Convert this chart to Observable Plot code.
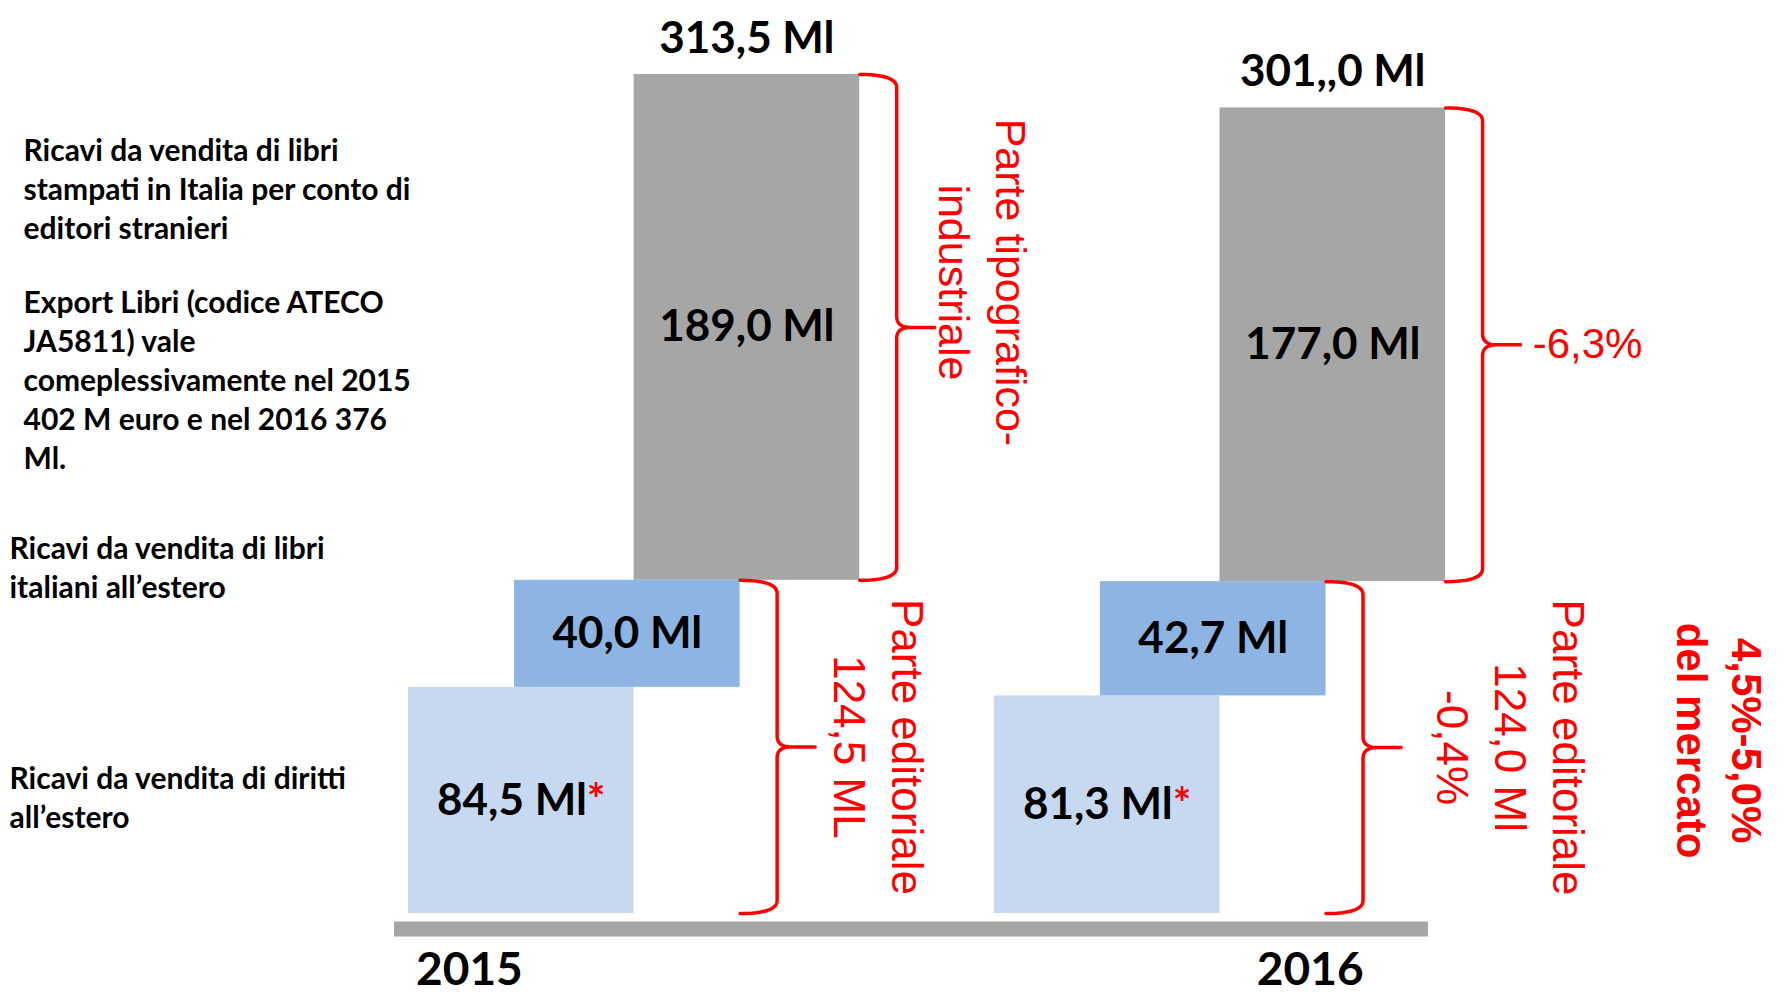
<!DOCTYPE html>
<html>
<head>
<meta charset="utf-8">
<script src="https://cdn.jsdelivr.net/npm/d3@7"></script>
<script src="https://cdn.jsdelivr.net/npm/@observablehq/plot@0.6"></script>
<style>
  html, body { margin: 0; padding: 0; background: #ffffff; overflow: hidden; }
  #chart svg { display: block; }
</style>
</head>
<body>
<div id="chart"></div>
<script>
// ---------------- DATA ----------------
const years = [2015, 2016];
const categories = ["diritti all'estero", "libri italiani all'estero", "libri stampati per editori stranieri"];
const values2015 = [84.5, 40.0, 189.0];
const values2016 = [81.3, 42.7, 177.0];
const valueLabels2015 = ["84,5 Ml", "40,0 Ml", "189,0 Ml"];
const valueLabels2016 = ["81,3 Ml", "42,7 Ml", "177,0 Ml"];
const starred = [true, false, false];
const totals = [313.5, 301.0];
const totalLabels = ["313,5 Ml", "301,,0 Ml"];
const yearLabels = ["2015", "2016"];
const industrialNotes = ["Parte tipografico-\nindustriale", "-6,3%"];
const editorialNotes = ["Parte editoriale\n124,5 ML", "Parte editoriale\n124,0 Ml\n-0,4%"];
const marketNote = "4,5%-5,0%\ndel mercato";
const categoryTexts = [
  "Ricavi da vendita di diritti\nall\u2019estero",
  "Ricavi da vendita di libri\nitaliani all\u2019estero",
  "Ricavi da vendita di libri\nstampati in Italia per conto di\neditori stranieri"
];
const exportNote = "Export Libri (codice ATECO\nJA5811) vale\ncomeplessivamente nel 2015\n402 M euro e nel 2016 376\nMl.";

// ---------------- STYLE / LAYOUT ----------------
const colors = ["#c6d9f1", "#8eb4e3", "#a6a6a6"];
const red = "#ff0000";
const W = 1787, H = 994;
const baselinePx = 913, topPx = 74;          // where 0 and the largest total sit
const barLeftPx = 408, barWidthPx = 225.6;   // first bar's left edge, bar width
const yearBase = [0, 2.597];                 // year group start, in bar widths
const segOffset = [0, 0.47, 1.0];            // stair-step offset of each segment
const yK = (baselinePx - topPx) / d3.max(totals);
const blackFont = "Lato, 'Open Sans', sans-serif";
const redFont = "'Liberation Sans', Arial, sans-serif";

const valuesByYear = [values2015, values2016];
const labelsByYear = [valueLabels2015, valueLabels2016];

const segs = [];
years.forEach((yr, i) => {
  let cum = 0;
  valuesByYear[i].forEach((v, j) => {
    const x1 = yearBase[i] + segOffset[j];
    segs.push({year: yr, cat: categories[j], j, value: v, y1: cum, y2: cum + v,
               x1, x2: x1 + 1, label: labelsByYear[i][j] + (starred[j] ? "*" : "")});
    cum += v;
  });
});
const segOf = (i, j) => segs.find(s => s.year === years[i] && s.j === j);

// curly braces built from segment extents
function bracePoints(id, xEdge, yTop, yBot) {
  const ux = px => px / barWidthPx, uy = px => px / yK;
  const stem = ux(37), tip = ux(75), bend = ux(14), corner = uy(13), neck = uy(11);
  const yMid = (yTop + yBot) / 2;
  const pts = [];
  const quad = (p0, p1, p2, n = 12) => {
    for (let k = 0; k <= n; k++) {
      const t = k / n, a = (1 - t) * (1 - t), b = 2 * (1 - t) * t, c = t * t;
      pts.push({id, x: a * p0[0] + b * p1[0] + c * p2[0], y: a * p0[1] + b * p1[1] + c * p2[1]});
    }
  };
  const xs = xEdge + stem;
  quad([xEdge, yTop], [xs, yTop], [xs, yTop - corner]);
  quad([xs, yMid + neck], [xs, yMid], [xs + bend, yMid]);
  pts.push({id, x: xEdge + tip, y: yMid});
  pts.push({id, x: xs + bend, y: yMid});
  quad([xs + bend, yMid], [xs, yMid], [xs, yMid - neck]);
  quad([xs, yBot + corner], [xs, yBot], [xEdge, yBot]);
  return pts;
}
const braces = [];
const industrialAnchors = [], editorialAnchors = [];
years.forEach((yr, i) => {
  const g = segOf(i, 2), m = segOf(i, 1), l = segOf(i, 0);
  braces.push(...bracePoints("ind" + yr, g.x2, g.y2, g.y1));
  braces.push(...bracePoints("ed" + yr, m.x2, m.y2, l.y1));
  industrialAnchors.push({xEdge: g.x2, y: (g.y1 + g.y2) / 2, text: industrialNotes[i]});
  editorialAnchors.push({xEdge: m.x2, y: (l.y1 + m.y2) / 2, text: editorialNotes[i]});
});

const xDomain = [-barLeftPx / barWidthPx, (W - barLeftPx) / barWidthPx];
const yDomain = [-(H - baselinePx) / yK, baselinePx / yK];

const chart = Plot.plot({
  width: W,
  height: H,
  margin: 0,
  x: {domain: xDomain, axis: null},
  y: {domain: yDomain, axis: null},
  color: {domain: categories, range: colors},
  style: {background: "#ffffff", overflow: "visible"},
  marks: [
    // base strip
    Plot.ruleY([0], {x1: -0.062, x2: 4.521, stroke: "#a6a6a6", strokeWidth: 15, dy: 15.5}),
    // stacked, stair-stepped segments
    Plot.rect(segs, {x1: "x1", x2: "x2", y1: "y1", y2: "y2", fill: "cat"}),
    // segment value labels
    Plot.text(segs, {x: d => (d.x1 + d.x2) / 2, y: d => (d.y1 + d.y2) / 2, text: "label",
      fontSize: 44, fontWeight: "bold", fontFamily: blackFont, fill: "#000"}),
    // totals above the stacks
    Plot.text(years.map((yr, i) => ({i})), {
      x: d => (segOf(d.i, 2).x1 + segOf(d.i, 2).x2) / 2, y: d => totals[d.i], dy: -36,
      text: d => totalLabels[d.i], fontSize: 44, fontWeight: "bold", fontFamily: blackFont, fill: "#000"}),
    // year labels
    Plot.text(years.map((yr, i) => ({i})), {
      x: d => yearBase[d.i] + [0.27, 1.40][d.i], y: 0, dy: 57,
      text: d => yearLabels[d.i], fontSize: 46, fontWeight: "bold", fontFamily: blackFont, fill: "#000"}),
    // braces
    Plot.line(braces, {x: "x", y: "y", z: "id", stroke: red, strokeWidth: 3.5,
      strokeLinejoin: "round", strokeLinecap: "round", curve: "linear"}),
    // industrial notes
    Plot.text([industrialAnchors[0]], {x: d => d.xEdge + 0.558, y: "y", dy: -45, text: "text",
      rotate: 90, lineHeight: 1.32, textAnchor: "middle", lineAnchor: "middle",
      fontSize: 43, fontFamily: redFont, fill: red}),
    Plot.text([industrialAnchors[1]], {x: d => d.xEdge + 0.386, y: "y", text: "text",
      textAnchor: "start", lineAnchor: "middle", fontSize: 42, fontFamily: redFont, fill: red}),
    // editorial notes
    Plot.text(editorialAnchors, {x: (d, i) => d.xEdge + [0.625, 0.833][i], y: "y", text: "text",
      rotate: 90, lineHeight: 1.32, textAnchor: "middle", lineAnchor: "middle",
      fontSize: 44, fontFamily: redFont, fill: red}),
    Plot.text([editorialAnchors[1]], {x: d => d.xEdge + 1.755, y: "y", dy: -7, text: () => marketNote,
      rotate: 90, lineHeight: 1.3, textAnchor: "middle", lineAnchor: "middle",
      fontSize: 42, fontWeight: "bold", fontFamily: redFont, fill: red}),
    // left-hand category descriptions
    Plot.text([categoryTexts[2]], {frameAnchor: "top-left", dx: 23, dy: 187, text: d => d,
      textAnchor: "start", lineAnchor: "middle", lineHeight: 1.3, fontSize: 30,
      fontWeight: "bold", fontFamily: blackFont, fill: "#000"}),
    Plot.text([exportNote], {frameAnchor: "top-left", dx: 23, dy: 378, text: d => d,
      textAnchor: "start", lineAnchor: "middle", lineHeight: 1.3, fontSize: 30,
      fontWeight: "bold", fontFamily: blackFont, fill: "#000"}),
    Plot.text([categoryTexts[1]], {frameAnchor: "top-left", dx: 9, dy: 566, text: d => d,
      textAnchor: "start", lineAnchor: "middle", lineHeight: 1.3, fontSize: 30,
      fontWeight: "bold", fontFamily: blackFont, fill: "#000"}),
    Plot.text([categoryTexts[0]], {frameAnchor: "top-left", dx: 9, dy: 796, text: d => d,
      textAnchor: "start", lineAnchor: "middle", lineHeight: 1.3, fontSize: 30,
      fontWeight: "bold", fontFamily: blackFont, fill: "#000"})
  ]
});

// red asterisks on starred labels
d3.select(chart).selectAll("text").each(function () {
  const t = this.textContent;
  if (this.children.length === 0 && t.length > 1 && t.endsWith("*")) {
    this.textContent = t.slice(0, -1);
    d3.select(this).append("tspan").attr("fill", red).text("*");
  }
});

document.getElementById("chart").appendChild(chart);
</script>
</body>
</html>
